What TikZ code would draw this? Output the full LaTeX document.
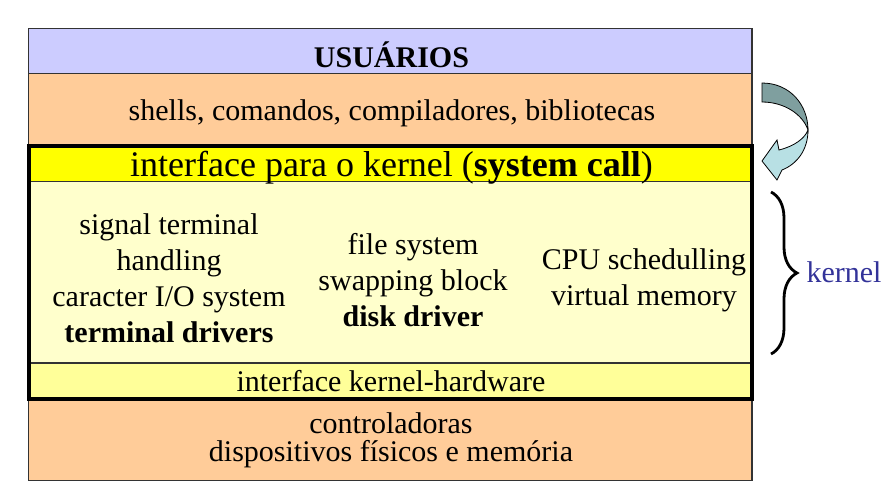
\documentclass[tikz,border=0pt]{standalone}
\usepackage{fontspec}
\setmainfont{Liberation Serif}
\usetikzlibrary{positioning,decorations.pathreplacing}
\definecolor{lavender}{HTML}{CCCCFF}
\definecolor{peach}{HTML}{FFCC99}
\definecolor{callyellow}{HTML}{FFFF00}
\definecolor{coreyellow}{HTML}{FFFFCC}
\definecolor{hwyellow}{HTML}{FFFF99}
\definecolor{arrowdark}{HTML}{7F9F9F}
\definecolor{arrowlight}{HTML}{B8E0E4}
\definecolor{kernelblue}{HTML}{333399}

\begin{document}
\begin{tikzpicture}[x=1pt, y=-1pt,
    layer/.style={draw=black!80, line width=1.3pt, minimum width=723.5pt,
      inner sep=0pt, outer sep=0pt},
    txt/.style={anchor=base, inner sep=0pt, align=center,
      font=\fontsize{30}{36}\selectfont}]
    \useasboundingbox (0,0) rectangle (895,499);
    % the layers, top to bottom
    \node[layer, fill=lavender, minimum height=45pt, anchor=north west] (users) at (28.5,28.5) {};
    \node[layer, fill=peach, minimum height=72.5pt, below=0pt of users] (shells) {};
    \node[layer, fill=callyellow, minimum height=35.5pt, below=0pt of shells] (syscall) {};
    \node[layer, fill=coreyellow, minimum height=181.5pt, below=0pt of syscall] (core) {};
    \node[layer, fill=hwyellow, minimum height=36pt, below=0pt of core] (hwiface) {};
    \node[layer, fill=peach, minimum height=81.5pt, below=0pt of hwiface] (devices) {};
    \draw[line width=4pt] (syscall.north west) rectangle (hwiface.south east);

    % texts (base = baseline of the last line)
    \node[txt] (usersT) at (391.5,67.7) {\textbf{USUÁRIOS}};
    \node[txt] (shellsT) at (392,120.5) {shells, comandos, compiladores, bibliotecas};
    \node[txt, font=\fontsize{36}{43}\selectfont] (syscallT) at (391.5,176.5)
      {interface para o kernel (\textbf{system call})};
    \node[txt] (termT) at (169,342) {signal terminal\\handling\\caracter I/O system\\\textbf{terminal drivers}};
    \node[txt] (diskT) at (413,326) {file system\\swapping block\\\textbf{disk driver}};
    \node[txt] (cpuT) at (644,305) {CPU schedulling\\virtual memory};
    \node[txt] (hwifaceT) at (391,391.7) {interface kernel-hardware};
    \node[txt, font=\fontsize{30}{28.5}\selectfont] (devicesT) at (391,461.7)
      {controladoras\\dispositivos físicos e memória};

    % curved arrow
    \filldraw[fill=arrowdark, draw=black, line width=0.8pt]
      (762,83) .. controls (790,83) and (808,105) .. (808,130)
      .. controls (803,115) and (785,102) .. (762,102) -- cycle;
    \filldraw[fill=arrowlight, draw=black, line width=0.8pt]
      (808,130) .. controls (808,150) and (797,164) .. (782,170)
      -- (777,180) -- (762,161) -- (777,140) -- (779,150)
      .. controls (795,146) and (805,138) .. (808,130) -- cycle;

    % brace
    \coordinate (braceTop) at (771,192);
    \coordinate (braceBot) at (771,354);
    \draw[decorate, decoration={brace, amplitude=26pt}, line width=2.8pt]
      (braceTop) -- (braceBot);
    \node[txt, text=kernelblue] (kernelT) at (844,282) {kernel};
\end{tikzpicture}
\end{document}
